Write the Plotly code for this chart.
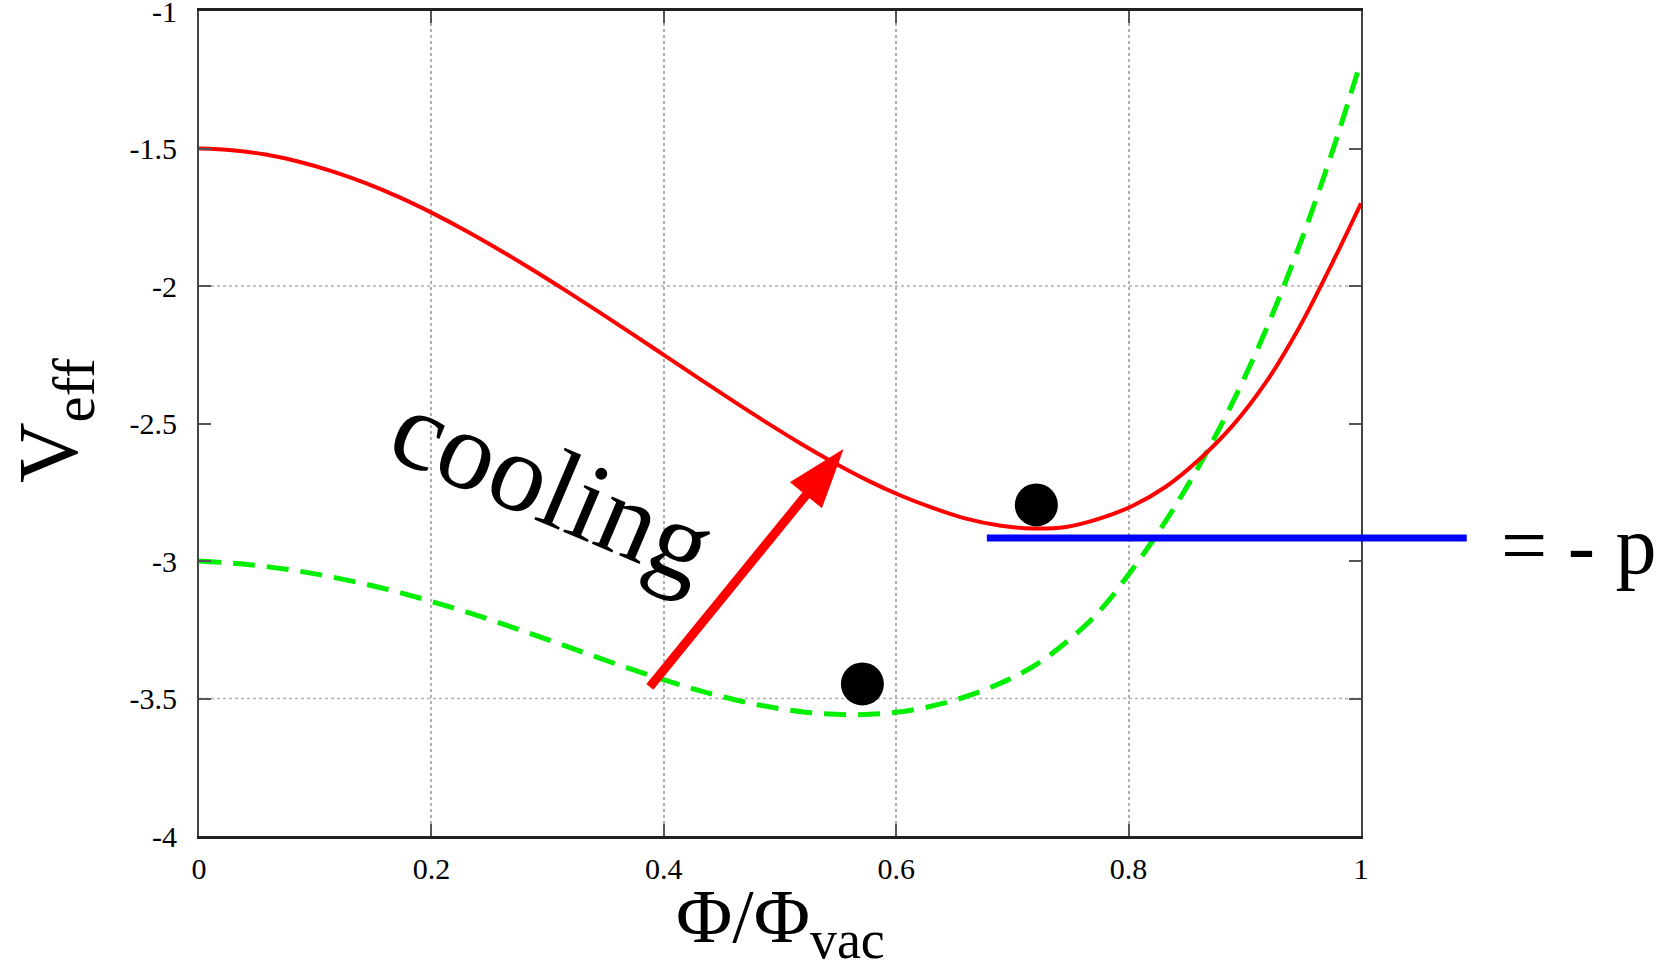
import math
import plotly.graph_objects as go

# ---------------- data ----------------
phi_red = [0.0, 0.0287, 0.0574, 0.0861, 0.1148, 0.1435, 0.1722, 0.2009, 0.2296, 0.2583,
           0.287, 0.3157, 0.3444, 0.3731, 0.4018, 0.4305, 0.4592, 0.4879, 0.5166, 0.5453,
           0.574, 0.6027, 0.6314, 0.6601, 0.6888, 0.7175, 0.7462, 0.7749, 0.8036, 0.8323,
           0.861, 0.8897, 0.9184, 0.9471, 0.9758, 1.0]
v_red = [-1.500, -1.506, -1.522, -1.548, -1.583, -1.626, -1.677, -1.735, -1.799, -1.868,
         -1.941, -2.017, -2.095, -2.175, -2.256, -2.337, -2.417, -2.495, -2.570, -2.640,
         -2.704, -2.760, -2.807, -2.846, -2.871, -2.882, -2.876, -2.846, -2.799, -2.729,
         -2.630, -2.507, -2.349, -2.149, -1.912, -1.699]

phi_green = [0.0, 0.04, 0.08, 0.12, 0.16, 0.20, 0.24, 0.28, 0.32, 0.36,
             0.40, 0.44, 0.48, 0.52, 0.56, 0.60, 0.64, 0.68, 0.72, 0.76,
             0.78, 0.80, 0.82, 0.84, 0.86, 0.88, 0.90, 0.92, 0.94, 0.96,
             0.98, 1.0]
v_green = [-3.000, -3.012, -3.033, -3.063, -3.101, -3.147, -3.199, -3.256, -3.316, -3.376,
           -3.432, -3.482, -3.522, -3.549, -3.559, -3.550, -3.518, -3.462, -3.378, -3.245,
           -3.158, -3.049, -2.931, -2.801, -2.659, -2.503, -2.331, -2.141, -1.931, -1.701,
           -1.451, -1.181]

dots_phi = [0.7206, 0.5709]
dots_v = [-2.796, -3.447]

pressure_level = -2.916           # blue "= - p" line
pressure_line_x = [0.678, 1.091]  # in plot-area fraction

arrow_tail = (0.388, -3.458)
arrow_tip = (0.554, -2.596)

x_ticks = [0, 0.2, 0.4, 0.6, 0.8, 1]
x_ticklabels = ["0", "0.2", "0.4", "0.6", "0.8", "1"]
y_ticks = [-4, -3.5, -3, -2.5, -2, -1.5, -1]
y_ticklabels = ["-4", "-3.5", "-3", "-2.5", "-2", "-1.5", "-1"]
y_grid = [-2, -3.5]

X_RANGE = [0, 1]
Y_RANGE = [-4, -1]

# ---------------- layout geometry ----------------
W, H = 1676, 968
ML, MR, MT, MB = 199, 315, 11, 132
PW = W - ML - MR
PH = H - MT - MB
SX = PW / (X_RANGE[1] - X_RANGE[0])
SY = PH / (Y_RANGE[1] - Y_RANGE[0])

FONT = "Liberation Serif"

fig = go.Figure()

fig.add_trace(go.Scatter(x=phi_green, y=v_green, mode="lines", line_shape="spline",
                         line=dict(color="#00ee00", width=5, dash="22px,12px"),
                         showlegend=False, hoverinfo="skip"))
fig.add_trace(go.Scatter(x=phi_red, y=v_red, mode="lines", line_shape="spline",
                         line=dict(color="#ff0000", width=4),
                         showlegend=False, hoverinfo="skip"))
fig.add_trace(go.Scatter(x=dots_phi, y=dots_v, mode="markers",
                         marker=dict(color="black", size=43),
                         showlegend=False, hoverinfo="skip"))

shapes = []
for gy in y_grid:
    shapes.append(dict(type="line", xref="paper", yref="y", x0=0, x1=1, y0=gy, y1=gy,
                       line=dict(color="#b0b0b0", width=1.5, dash="dot"), layer="below"))

shapes.append(dict(type="line", xref="paper", yref="y",
                   x0=pressure_line_x[0], x1=pressure_line_x[1],
                   y0=pressure_level, y1=pressure_level,
                   line=dict(color="#0000ff", width=7)))

# red arrow (shaft + triangular head) computed in pixel space
dxp = (arrow_tip[0] - arrow_tail[0]) * SX
dyp = (arrow_tip[1] - arrow_tail[1]) * SY
L = math.hypot(dxp, dyp)
ux, uy = dxp / L, dyp / L
px_, py_ = -uy, ux
HEAD_LEN, HEAD_W = 58, 40
bx = arrow_tip[0] - HEAD_LEN * ux / SX
by = arrow_tip[1] - HEAD_LEN * uy / SY
sbx = arrow_tip[0] - (HEAD_LEN - 4) * ux / SX
sby = arrow_tip[1] - (HEAD_LEN - 4) * uy / SY
c1 = (bx + HEAD_W / 2 * px_ / SX, by + HEAD_W / 2 * py_ / SY)
c2 = (bx - HEAD_W / 2 * px_ / SX, by - HEAD_W / 2 * py_ / SY)
shapes.append(dict(type="line", xref="x", yref="y", x0=arrow_tail[0], y0=arrow_tail[1],
                   x1=sbx, y1=sby, line=dict(color="#ff0000", width=9)))
shapes.append(dict(type="path", xref="x", yref="y",
                   path=f"M{arrow_tip[0]},{arrow_tip[1]} L{c1[0]},{c1[1]} L{c2[0]},{c2[1]} Z",
                   fillcolor="#ff0000", line=dict(color="#ff0000", width=1)))

annotations = [
    dict(text="cooling", xref="x", yref="y", x=0.3046, y=-2.727, showarrow=False,
         textangle=23, font=dict(family=FONT, size=112, color="black"),
         xanchor="center", yanchor="middle"),
    dict(text="= - p", xref="paper", yref="paper", x=1.188, y=0.352, showarrow=False,
         font=dict(family=FONT, size=82, color="black"), xanchor="center", yanchor="middle"),
    dict(text="V<sub>eff</sub>", xref="paper", yref="paper", x=-0.124, y=0.504,
         showarrow=False, textangle=-90, font=dict(family=FONT, size=84, color="black"),
         xanchor="center", yanchor="middle"),
    dict(text="Φ/Φ<sub>vac</sub>", xref="paper", yref="paper", x=0.5, y=-0.104,
         showarrow=False, font=dict(family=FONT, size=77, color="black"),
         xanchor="center", yanchor="middle"),
]

fig.update_layout(
    width=W, height=H,
    margin=dict(l=ML, r=MR, t=MT, b=MB, pad=0, autoexpand=False),
    paper_bgcolor="white", plot_bgcolor="white",
    shapes=shapes, annotations=annotations,
    xaxis=dict(range=X_RANGE, tickvals=x_ticks, ticktext=x_ticklabels, automargin=False,
               showgrid=True, gridcolor="#b0b0b0", griddash="dot", gridwidth=1.5,
               zeroline=False, showline=True, linecolor="#222", linewidth=3,
               mirror="ticks", ticks="inside", ticklen=12, tickwidth=1.5, tickcolor="#555",
               tickfont=dict(family=FONT, size=30, color="black"),
               ticklabelstandoff=4, ticklabeloverflow="allow", fixedrange=True),
    yaxis=dict(range=Y_RANGE, tickvals=y_ticks, ticktext=y_ticklabels, automargin=False,
               showgrid=False, zeroline=False, showline=True, linecolor="#444", linewidth=2,
               mirror="ticks", ticks="inside", ticklen=12, tickwidth=1.5, tickcolor="#555",
               tickfont=dict(family=FONT, size=30, color="black"),
               ticklabelstandoff=14, ticklabeloverflow="allow", fixedrange=True),
)

fig.write_html("out.html")
